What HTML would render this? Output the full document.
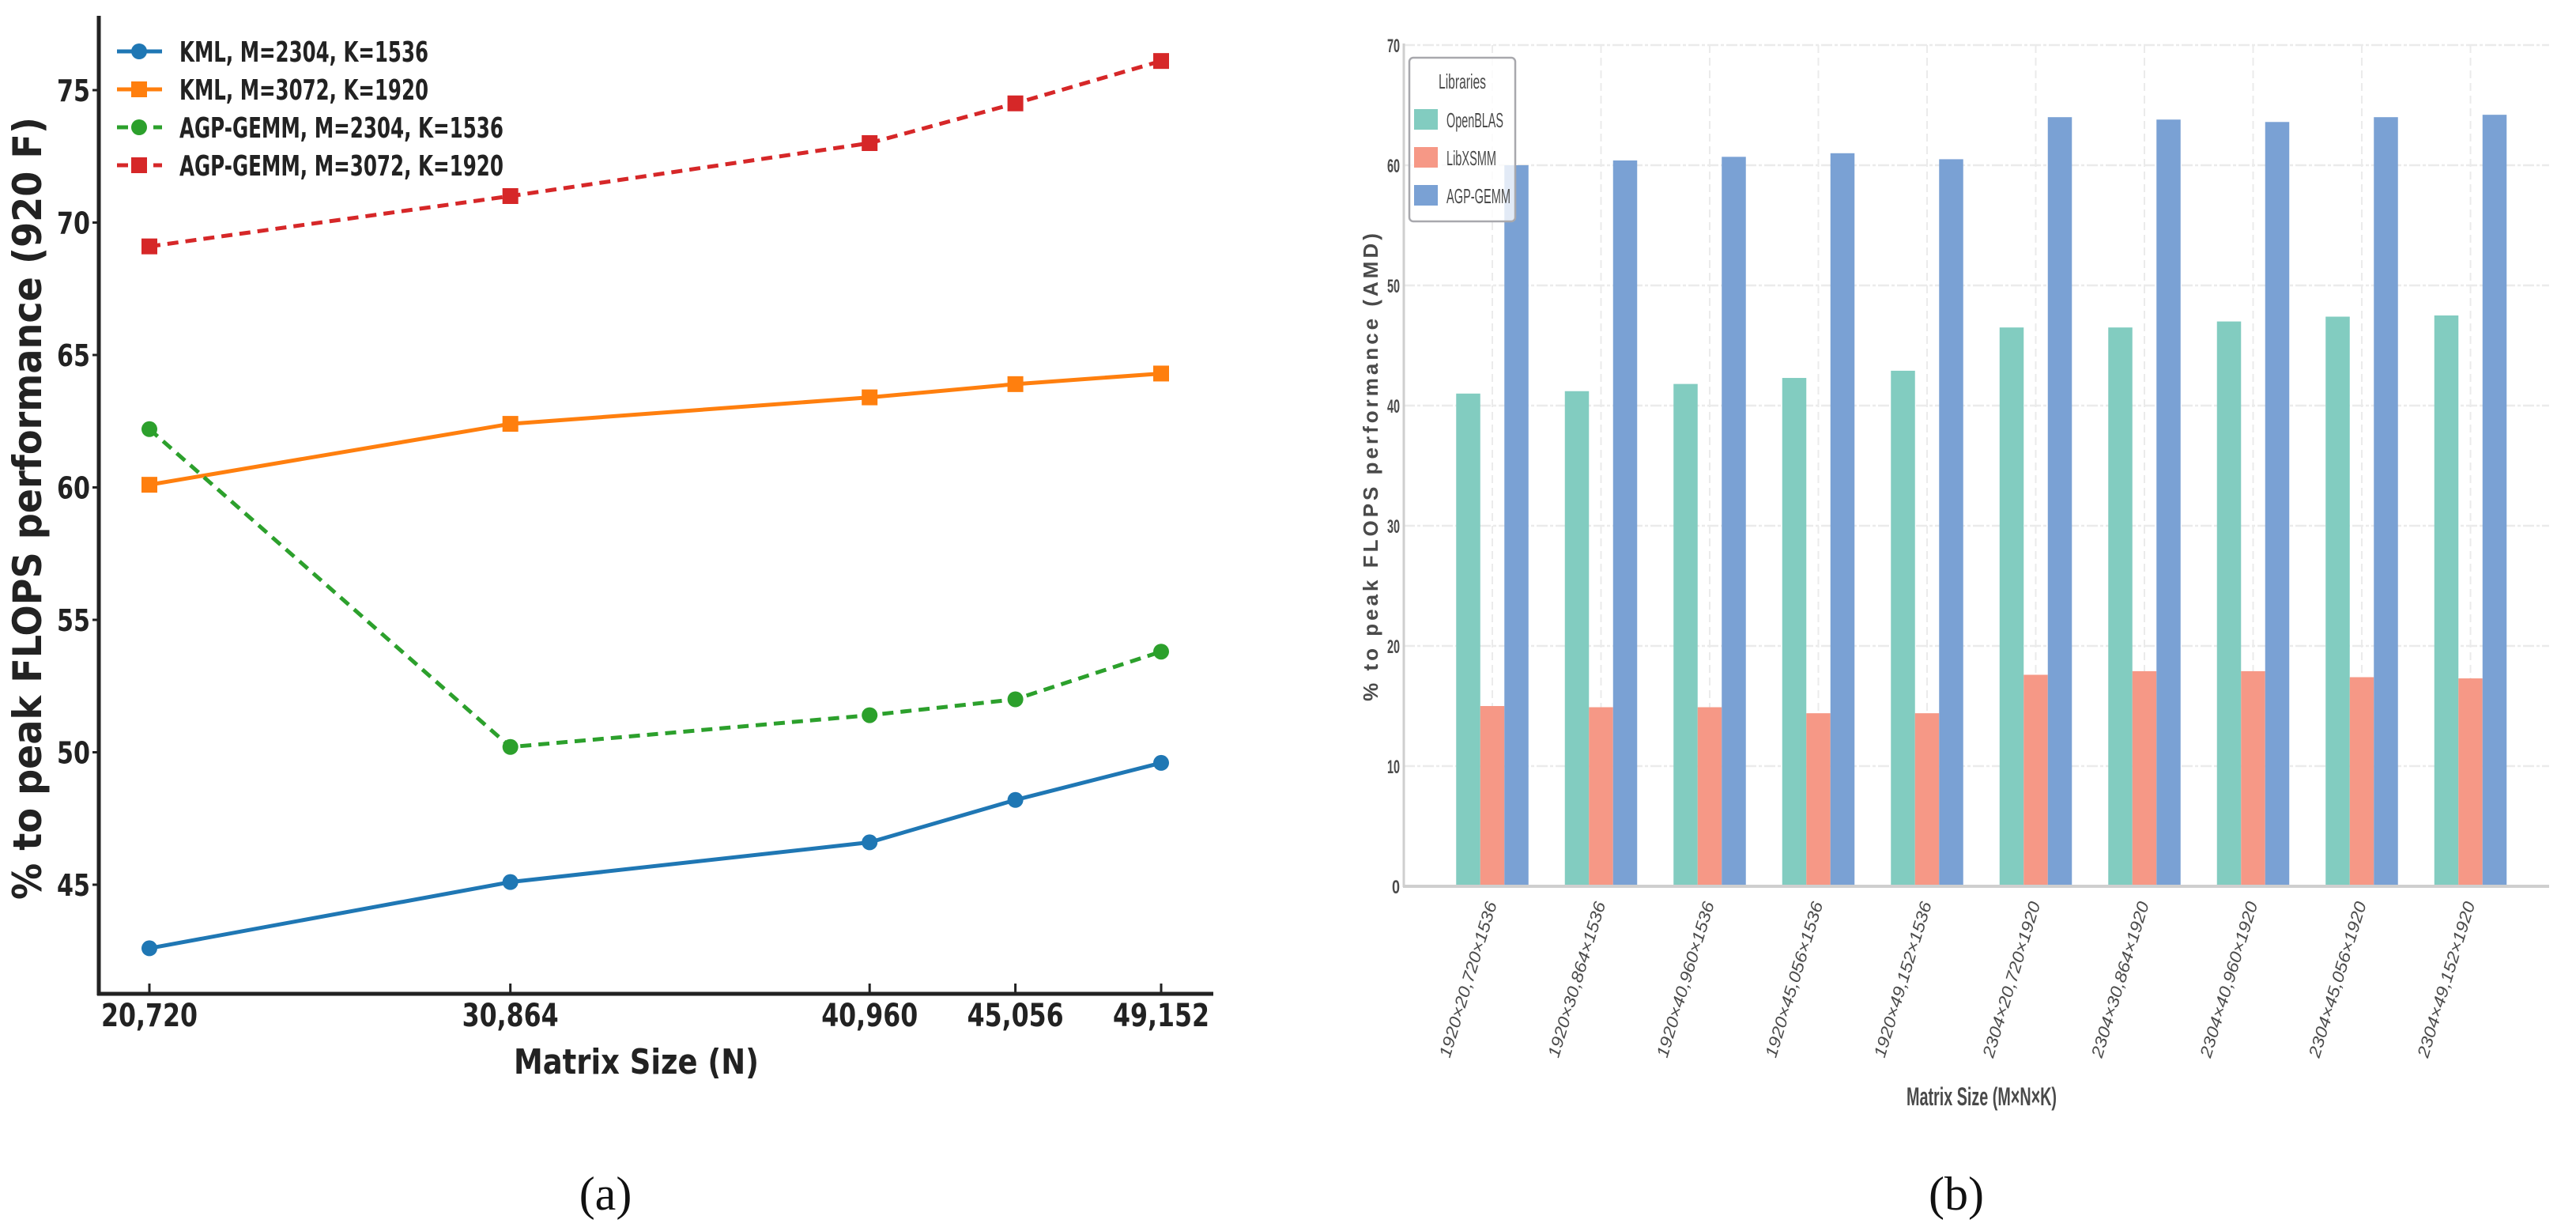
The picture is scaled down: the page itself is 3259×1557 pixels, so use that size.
<!DOCTYPE html>
<html><head><meta charset="utf-8"><style>
html,body{margin:0;padding:0;background:#fff;}
svg{display:block;}
</style></head><body>
<svg id="root" width="3259" height="1557" xmlns="http://www.w3.org/2000/svg">
<g id="left"></g>
<g id="right"></g>
<text x="766" y="1530" font-family="Liberation Serif, serif" font-size="60" text-anchor="middle" fill="#111">(a)</text>
<text x="2475" y="1530" font-family="Liberation Serif, serif" font-size="60" text-anchor="middle" fill="#111">(b)</text>
</svg>
<script>
// ---- Left chart data ----
const lineX = [20720, 30864, 40960, 45056, 49152];
const lineXLabels = ["20,720", "30,864", "40,960", "45,056", "49,152"];
const kml2304 = [42.6, 45.1, 46.6, 48.2, 49.6];
const kml3072 = [60.1, 62.4, 63.4, 63.9, 64.3];
const agp2304 = [62.2, 50.2, 51.4, 52.0, 53.8];
const agp3072 = [69.1, 71.0, 73.0, 74.5, 76.1];
const lineYTicks = [45, 50, 55, 60, 65, 70, 75];
const lineSeriesNames = ["KML, M=2304, K=1536", "KML, M=3072, K=1920", "AGP-GEMM, M=2304, K=1536", "AGP-GEMM, M=3072, K=1920"];

// ---- Right chart data ----
const barCats = ["1920×20,720×1536","1920×30,864×1536","1920×40,960×1536","1920×45,056×1536","1920×49,152×1536","2304×20,720×1920","2304×30,864×1920","2304×40,960×1920","2304×45,056×1920","2304×49,152×1920"];
const openblas = [41.0, 41.2, 41.8, 42.3, 42.9, 46.5, 46.5, 47.0, 47.4, 47.5];
const libxsmm = [15.0, 14.9, 14.9, 14.4, 14.4, 17.6, 17.9, 17.9, 17.4, 17.3];
const agpgemm = [60.0, 60.4, 60.7, 61.0, 60.5, 64.0, 63.8, 63.6, 64.0, 64.2];
const barYTicks = [0, 10, 20, 30, 40, 50, 60, 70];
const barSeriesNames = ["OpenBLAS", "LibXSMM", "AGP-GEMM"];

const NS = "http://www.w3.org/2000/svg";
function mk(parent, tag, attrs, text) {
  const e = document.createElementNS(NS, tag);
  for (const k in attrs) e.setAttribute(k, attrs[k]);
  if (text !== undefined) e.textContent = text;
  parent.appendChild(e);
  return e;
}

// ===== Left chart =====
const L = document.getElementById('left');
const lx = v => 189 + (v - 20720) * (1469 - 189) / (49152 - 20720);
const ly = v => 1119 - (v - 45) * (1119 - 114) / 30;
const DJ = "DejaVu Sans, sans-serif";
let e;
e = mk(L, 'line', {x1:125, y1:20, x2:125, y2:1259, stroke:'#222', 'stroke-width':5});
 
e = mk(L, 'line', {x1:123, y1:1257, x2:1535, y2:1257, stroke:'#222', 'stroke-width':5});
 
lineYTicks.forEach(t => {
  const y = ly(t);
  let a = mk(L, 'line', {x1:117, y1:y, x2:125, y2:y, stroke:'#222', 'stroke-width':3});
   
  let b = mk(L, 'text', {x:114, y:y+14, 'text-anchor':'end', 'font-family':DJ, 'font-weight':'bold', 'font-size':38, fill:'#222', textLength:42, lengthAdjust:'spacingAndGlyphs'}, String(t));
   
});
lineX.forEach((v, i) => {
  const x = lx(v);
  let a = mk(L, 'line', {x1:x, y1:1244, x2:x, y2:1257, stroke:'#222', 'stroke-width':3});
   
  let b = mk(L, 'text', {x:x, y:1298, 'text-anchor':'middle', 'font-family':DJ, 'font-weight':'bold', 'font-size':40, fill:'#222', textLength:122, lengthAdjust:'spacingAndGlyphs'}, lineXLabels[i]);
   
});
e = mk(L, 'text', {x:805, y:1358, 'text-anchor':'middle', 'font-family':DJ, 'font-weight':'bold', 'font-size':44, fill:'#222', textLength:310, lengthAdjust:'spacingAndGlyphs'}, 'Matrix Size (N)');
 
e = mk(L, 'text', {x:0, y:0, transform:'translate(52,643) rotate(-90)', 'text-anchor':'middle', 'font-family':DJ, 'font-weight':'bold', 'font-size':50, fill:'#222', textLength:990, lengthAdjust:'spacingAndGlyphs'}, '% to peak FLOPS performance (920 F)');
 

const lineSeries = [
  {d:kml2304, c:'#1f77b4', dash:null, m:'circle'},
  {d:kml3072, c:'#ff7f0e', dash:null, m:'square'},
  {d:agp2304, c:'#2ca02c', dash:'14,9', m:'circle'},
  {d:agp3072, c:'#d62728', dash:'14,9', m:'square'}
];
function marker(g, kind, x, y, c) {
  if (kind === 'circle') return mk(g, 'ellipse', {cx:x, cy:y, rx:10, ry:10, fill:c});
  return mk(g, 'rect', {x:x-10, y:y-10, width:20, height:20, fill:c});
}
lineSeries.forEach((s, si) => {
  const g = mk(L, 'g', {});
   
  const pts = s.d.map((v, i) => lx(lineX[i]) + ',' + ly(v)).join(' ');
  const pl = mk(g, 'polyline', {points:pts, fill:'none', stroke:s.c, 'stroke-width':5});
  if (s.dash) pl.setAttribute('stroke-dasharray', s.dash);
   
  s.d.forEach((v, i) => {
    const m = marker(g, s.m, lx(lineX[i]), ly(v), s.c);
     
  });
  // legend
  const yL = 65 + si * 48;
  const lg = mk(L, 'g', {});
   
  const ll = mk(lg, 'line', {x1:148, y1:yL, x2:205, y2:yL, stroke:s.c, 'stroke-width':5});
  if (s.dash) ll.setAttribute('stroke-dasharray', '14,9');
  marker(lg, s.m, 176, yL, s.c);
  mk(lg, 'text', {x:227, y:yL+13, 'font-family':DJ, 'font-weight':'bold', 'font-size':36, fill:'#222', textLength:si<2?315:410, lengthAdjust:'spacingAndGlyphs'}, lineSeriesNames[si]);
});

// ===== Right chart =====
const R = document.getElementById('right');
const by = v => 1121 - v * (1121 - 57) / 70;
const bx = i => 1888 + i * 137.5;
const bw = 30.5;
const barColors = ['#82ccc0', '#f69886', '#7aa1d4'];
const LS = "Liberation Sans, sans-serif";
barYTicks.forEach(t => {
  const y = by(t);
  if (t > 0) {
    let a = mk(R, 'line', {x1:1776, y1:y, x2:3225, y2:y, stroke:'#ebebeb', 'stroke-width':2.5, 'stroke-dasharray':'14,3,4,3'});
     
  }
  let b = mk(R, 'text', {x:1771, y:y+9, 'text-anchor':'end', 'font-family':LS, 'font-weight':'bold', 'font-size':24, fill:'#4a4a4a', textLength:t===0?10:16, lengthAdjust:'spacingAndGlyphs'}, String(t));
   
});
barCats.forEach((c, i) => {
  const x = bx(i);
  let a = mk(R, 'line', {x1:x, y1:57, x2:x, y2:1121, stroke:'#ebebeb', 'stroke-width':2, 'stroke-dasharray':'10,6'});
   
});
[openblas, libxsmm, agpgemm].forEach((arr, si) => {
  arr.forEach((v, i) => {
    const x = bx(i) + (si - 1) * bw - bw / 2;
    const r = mk(R, 'rect', {x:x, y:by(v), width:bw, height:by(0) - by(v), fill:barColors[si]});
    
    
  });
});
e = mk(R, 'line', {x1:1776, y1:55, x2:1776, y2:1122, stroke:'#cfcfcf', 'stroke-width':3});
 
e = mk(R, 'line', {x1:1775, y1:1121, x2:3225, y2:1121, stroke:'#cfcfcf', 'stroke-width':4});
 
barCats.forEach((c, i) => {
  const x = bx(i) + 6;
  let t = mk(R, 'text', {x:0, y:0, transform:'translate(' + x + ',1143) rotate(-73)', 'text-anchor':'end', 'font-family':LS, 'font-style':'italic', 'font-size':21, fill:'#4a4a4a', textLength:205, lengthAdjust:'spacingAndGlyphs'}, c);
   
});
e = mk(R, 'text', {x:2507, y:1398, 'text-anchor':'middle', 'font-family':LS, 'font-weight':'bold', 'font-size':32, fill:'#4a4a4a', textLength:190, lengthAdjust:'spacingAndGlyphs'}, 'Matrix Size (M×N×K)');
 
e = mk(R, 'text', {x:0, y:0, transform:'translate(1743,589) rotate(-90)', 'text-anchor':'middle', 'font-family':LS, 'font-weight':'bold', 'font-size':26, fill:'#4a4a4a', 'letter-spacing':4}, '% to peak FLOPS performance (AMD)');
 
// legend
const lgBox = mk(R, 'g', {});
 
mk(lgBox, 'rect', {x:1783, y:73, width:134, height:207, rx:5, fill:'rgba(255,255,255,0.78)', stroke:'#a8a8ad', 'stroke-width':2.5});
mk(lgBox, 'text', {x:1850, y:112, 'text-anchor':'middle', 'font-family':LS, 'font-size':26, fill:'#4a4a4a', textLength:60, lengthAdjust:'spacingAndGlyphs'}, 'Libraries');
barSeriesNames.forEach((n, si) => {
  const y = 151 + si * 48;
  const g = mk(lgBox, 'g', {});
   
  mk(g, 'rect', {x:1789, y:y-13, width:30, height:26, fill:barColors[si]});
  mk(g, 'text', {x:1830, y:y+10, 'font-family':LS, 'font-size':26, fill:'#4a4a4a', textLength:n==='AGP-GEMM'?81:(n==='OpenBLAS'?72:63), lengthAdjust:'spacingAndGlyphs'}, n);
});
</script>
</body></html>
